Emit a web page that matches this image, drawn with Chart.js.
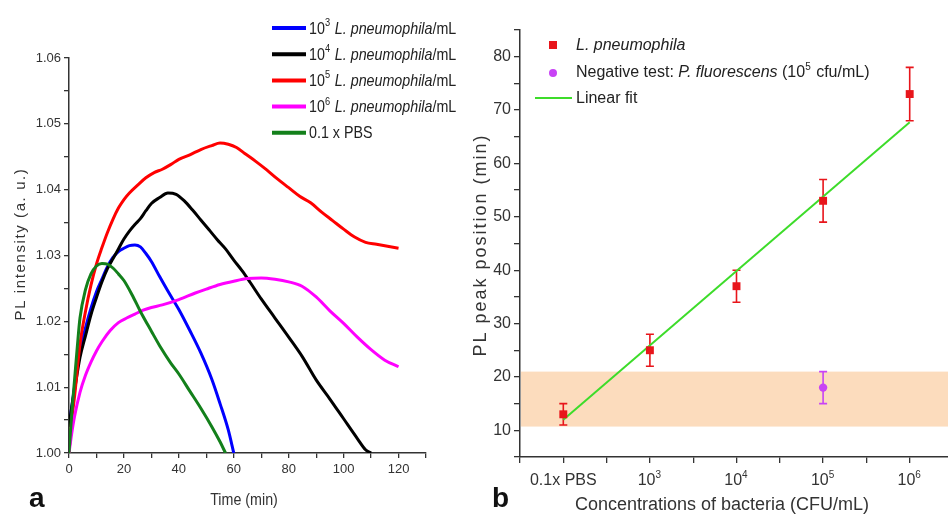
<!DOCTYPE html>
<html>
<head>
<meta charset="utf-8">
<script src="https://cdn.jsdelivr.net/npm/chart.js@4.4.1/dist/chart.umd.min.js"></script>
<style>
  body { margin: 0; background: #fff; overflow: hidden; }
  #wrap { position: relative; width: 948px; height: 518px; background: #fff; overflow: hidden; }
  #chartA { position: absolute; left: 0; top: 0; }
  #chartB { position: absolute; left: 470px; top: 0; }
</style>
</head>
<body>
<div id="wrap">
  <canvas id="chartA" width="470" height="518"></canvas>
  <canvas id="chartB" width="490" height="518"></canvas>
</div>
<script>
// ---- panel a: PL intensity (a.u.) vs time (min) ----
const tBlue = [0, 1, 2, 4, 6, 8, 10, 12, 14, 16, 18, 20, 22, 24, 26, 28, 30, 33, 36, 40, 44, 48, 52, 55, 58, 60];
const vBlue = [1.004, 1.007, 1.010, 1.0155, 1.019, 1.022, 1.0245, 1.0264, 1.0283, 1.0297, 1.0306, 1.0311, 1.0315, 1.0316, 1.0313, 1.0303, 1.0291, 1.0268, 1.0246, 1.0218, 1.0186, 1.0152, 1.0112, 1.0075, 1.0035, 1.000];

const tBlack = [0, 1, 2, 4, 6, 8, 10, 12, 14, 16, 18, 20, 22, 24, 26, 28, 30, 33, 36, 39, 42, 45, 48, 51, 54, 57, 60, 63, 66, 70, 75, 80, 85, 90, 95, 100, 105, 108, 110];
const vBlack = [1.004, 1.007, 1.0095, 1.0145, 1.0178, 1.021, 1.0236, 1.026, 1.028, 1.0295, 1.031, 1.0325, 1.0337, 1.0347, 1.0356, 1.0368, 1.0379, 1.0388, 1.0395, 1.0393, 1.0383, 1.0369, 1.0354, 1.0339, 1.0324, 1.0310, 1.0293, 1.0277, 1.0259, 1.0234, 1.0205, 1.0176, 1.0146, 1.0111, 1.0082, 1.0052, 1.0022, 1.0005, 1.000];

const tRed = [0, 1, 2, 4, 6, 8, 10, 12, 14, 16, 18, 20, 22, 25, 28, 31, 34, 37, 40, 44, 48, 52, 55, 58, 61, 64, 68, 72, 76, 80, 84, 88, 92, 96, 100, 104, 108, 112, 116, 120];
const vRed = [1.000, 1.005, 1.0085, 1.0165, 1.0215, 1.0255, 1.0287, 1.0312, 1.0335, 1.0355, 1.0372, 1.0385, 1.0395, 1.0407, 1.0418, 1.0426, 1.0431, 1.0438, 1.0446, 1.0453, 1.0461, 1.0467, 1.0471, 1.0469, 1.0464, 1.0455, 1.0443, 1.0430, 1.0416, 1.0403, 1.0390, 1.0380, 1.0366, 1.0353, 1.0340, 1.0328, 1.0320, 1.0317, 1.0314, 1.0311];

const tMagenta = [0, 1, 2, 4, 6, 8, 10, 12, 15, 18, 21, 24, 27, 30, 34, 40, 46, 50, 55, 60, 65, 70, 75, 80, 85, 90, 95, 100, 105, 110, 115, 120];
const vMagenta = [1.000, 1.003, 1.0055, 1.0092, 1.0118, 1.0138, 1.0155, 1.0169, 1.0186, 1.0198, 1.0205, 1.0211, 1.0217, 1.0221, 1.0225, 1.0233, 1.0243, 1.0249, 1.0256, 1.0261, 1.0265, 1.0266, 1.0264, 1.0260, 1.0253, 1.0237, 1.0216, 1.0197, 1.0176, 1.0157, 1.0141, 1.0131];

const tGreen = [0, 1, 2, 3, 4, 6, 8, 10, 12, 14, 16, 18, 20, 23, 26, 30, 33, 37, 40, 44, 48, 52, 55, 57];
const vGreen = [1.000, 1.006, 1.011, 1.016, 1.0205, 1.0248, 1.0272, 1.0284, 1.0288, 1.0287, 1.0281, 1.0272, 1.0262, 1.0240, 1.0215, 1.0185, 1.0163, 1.0137, 1.0120, 1.0094, 1.0068, 1.0040, 1.0017, 1.000];

const curveExponents = [3, 4, 5, 6, null]; // null = 0.1 x PBS control

// ---- panel b: PL peak position vs concentration ----
const concBase = ['0.1x PBS', '10', '10', '10', '10'];
const concExp = ['', '3', '4', '5', '6'];
const peakPos = [13, 25, 37, 53, 73];
const peakErr = [2, 3, 3, 4, 5];
const negConc = [3];
const negPos = [18];
const negErr = [3];
const fitX = [0, 4];
const fitY = [12, 67.7];
const bandRange = [10.7, 21];

const SANS = '"Liberation Sans", Arial, sans-serif';
const INK = '#333';
const NARROW = 0.84; // horizontal squeeze for the condensed look of panel a

Chart.defaults.font.family = SANS;
Chart.defaults.color = INK;

function pts(xs, ys) {
  return xs.map((x, i) => ({ x: x, y: ys[i] }));
}

function richWidth(ctx, parts, size) {
  let w = 0;
  parts.forEach(p => {
    const s = p.sup ? Math.round(size * 0.62) : size;
    ctx.font = (p.italic ? 'italic ' : '') + s + 'px ' + SANS;
    w += ctx.measureText(p.text).width + (p.sup ? 1 : 0);
  });
  return w;
}

// text with italic / superscript pieces, sx squeezes it horizontally
function drawRich(ctx, x, y, parts, size, sx, center) {
  ctx.save();
  ctx.translate(x, y);
  ctx.scale(sx || 1, 1);
  ctx.textBaseline = 'middle';
  ctx.textAlign = 'left';
  let cx = center ? -richWidth(ctx, parts, size) / 2 : 0;
  parts.forEach(p => {
    const s = p.sup ? Math.round(size * 0.62) : size;
    ctx.font = (p.italic ? 'italic ' : '') + s + 'px ' + SANS;
    ctx.fillText(p.text, cx, p.sup ? -size * 0.36 : 0);
    cx += ctx.measureText(p.text).width + (p.sup ? 1 : 0);
  });
  ctx.restore();
}

function drawText(ctx, t) {
  ctx.save();
  ctx.translate(t.x, t.y);
  if (t.rot) ctx.rotate(t.rot);
  if (t.sx) ctx.scale(t.sx, 1);
  ctx.font = t.font;
  ctx.fillStyle = t.color || INK;
  if (t.spacing) ctx.letterSpacing = t.spacing;
  ctx.textAlign = t.align || 'center';
  ctx.textBaseline = t.baseline || 'middle';
  ctx.fillText(t.text, 0, 0);
  ctx.restore();
}

const axisStyle = {
  grid: { drawOnChartArea: false, drawTicks: true, tickLength: 5, color: INK, lineWidth: 1.3 },
  border: { display: true, color: INK, width: 1.5 }
};

// ---------------- chart a ----------------
const curveColors = ['#0000ff', '#000000', '#ff0000', '#ff00ff', '#13801b'];
const curveData = [pts(tBlue, vBlue), pts(tBlack, vBlack), pts(tRed, vRed), pts(tMagenta, vMagenta), pts(tGreen, vGreen)];

const legendA = {
  id: 'legendA',
  afterDraw(chart) {
    const ctx = chart.ctx;
    ctx.save();
    curveExponents.forEach((e, i) => {
      const y = 28 + i * 26.2;
      ctx.strokeStyle = curveColors[i];
      ctx.lineWidth = 4;
      ctx.beginPath();
      ctx.moveTo(272, y);
      ctx.lineTo(306, y);
      ctx.stroke();
      ctx.fillStyle = '#222';
      const parts = e === null
        ? [{ text: '0.1 x PBS' }]
        : [{ text: '10' }, { text: String(e), sup: true }, { text: ' ' }, { text: 'L. pneumophila', italic: true }, { text: '/mL' }];
      drawRich(ctx, 309, y + 1, parts, 17, NARROW);
    });
    drawText(ctx, { text: 'PL intensity (a. u.)', x: 21, y: 244, rot: -Math.PI / 2, font: '15px ' + SANS, spacing: '1.6px' });
    drawText(ctx, { text: 'Time (min)', x: 244, y: 500, font: '17px ' + SANS, sx: NARROW });
    drawText(ctx, { text: 'a', x: 29, y: 507, font: 'bold 28px ' + SANS, align: 'left', baseline: 'alphabetic', color: '#111' });
    ctx.restore();
  }
};

new Chart(document.getElementById('chartA'), {
  type: 'line',
  data: {
    datasets: curveData.map((d, i) => ({
      label: curveExponents[i] === null ? '0.1 x PBS' : '10^' + curveExponents[i] + ' L. pneumophila/mL',
      data: d,
      borderColor: curveColors[i],
      borderWidth: 3,
      pointRadius: 0,
      cubicInterpolationMode: 'monotone',
      fill: false,
      order: 5 - i
    }))
  },
  options: {
    responsive: false,
    animation: false,
    layout: { padding: { left: 0, top: 58, right: 44, bottom: 0 } },
    plugins: { legend: { display: false }, tooltip: { enabled: false } },
    scales: {
      x: {
        type: 'linear',
        min: 0, max: 130,
        ...axisStyle,
        ticks: {
          stepSize: 10, padding: 4, maxRotation: 0, autoSkip: false,
          font: { size: 13 },
          callback: v => (v % 20 === 0 ? String(v) : '')
        },
        afterFit: s => { s.height = 65; }
      },
      y: {
        min: 1.0, max: 1.06,
        ...axisStyle,
        ticks: {
          stepSize: 0.005, padding: 3, autoSkip: false,
          font: { size: 13 },
          callback: v => (Math.round(v * 1000) % 10 === 0 ? v.toFixed(2) : '')
        },
        afterFit: s => { s.width = 69; }
      }
    }
  },
  plugins: [legendA]
});

// ---------------- chart b ----------------
const RED = '#e8151b';
const VIOLET = '#c843f5';
const FIT = '#3ddc2a';

const bandAndErrors = {
  id: 'bandAndErrors',
  beforeDatasetsDraw(chart) {
    const { ctx, chartArea, scales } = chart;
    const yTop = scales.y.getPixelForValue(bandRange[1]);
    const yBot = scales.y.getPixelForValue(bandRange[0]);
    ctx.save();
    ctx.fillStyle = '#fcdcbd';
    ctx.fillRect(chartArea.left + 1, yTop, chartArea.right - chartArea.left, yBot - yTop);
    chart.data.datasets.forEach((ds, i) => {
      if (!ds.yErr) return;
      const meta = chart.getDatasetMeta(i);
      ctx.strokeStyle = ds.borderColor;
      ctx.lineWidth = 1.6;
      meta.data.forEach((el, j) => {
        const v = ds.data[j].y;
        const e = ds.yErr[j];
        const y1 = scales.y.getPixelForValue(v + e);
        const y2 = scales.y.getPixelForValue(v - e);
        ctx.beginPath();
        ctx.moveTo(el.x, y1); ctx.lineTo(el.x, y2);
        ctx.moveTo(el.x - 4, y1); ctx.lineTo(el.x + 4, y1);
        ctx.moveTo(el.x - 4, y2); ctx.lineTo(el.x + 4, y2);
        ctx.stroke();
      });
    });
    ctx.restore();
  },
  afterDraw(chart) {
    const ctx = chart.ctx;
    const xs = chart.scales.x;
    ctx.save();
    // category labels with real superscripts
    ctx.fillStyle = INK;
    concBase.forEach((b, i) => {
      const parts = concExp[i] ? [{ text: b }, { text: concExp[i], sup: true }] : [{ text: b }];
      drawRich(ctx, xs.getPixelForValue(i), 481, parts, 16, 1, true);
    });
    // legend
    ctx.fillStyle = RED;
    ctx.fillRect(79, 41, 8, 8);
    ctx.fillStyle = VIOLET;
    ctx.beginPath();
    ctx.arc(83, 73, 4, 0, Math.PI * 2);
    ctx.fill();
    ctx.strokeStyle = FIT;
    ctx.lineWidth = 2;
    ctx.beginPath();
    ctx.moveTo(65, 98); ctx.lineTo(102, 98);
    ctx.stroke();
    ctx.fillStyle = '#222';
    drawRich(ctx, 106, 46, [{ text: 'L. pneumophila', italic: true }], 16);
    drawRich(ctx, 106, 73, [{ text: 'Negative test: ' }, { text: 'P. fluorescens', italic: true }, { text: ' (10' }, { text: '5', sup: true }, { text: ' cfu/mL)' }], 16);
    drawRich(ctx, 106, 99, [{ text: 'Linear fit' }], 16);
    // axis titles
    drawText(ctx, { text: 'PL peak position (min)', x: 11, y: 245, rot: -Math.PI / 2, font: '18px ' + SANS, spacing: '2px' });
    drawText(ctx, { text: 'Concentrations of bacteria (CFU/mL)', x: 252, y: 505, font: '18px ' + SANS });
    drawText(ctx, { text: 'b', x: 22, y: 507, font: 'bold 28px ' + SANS, align: 'left', baseline: 'alphabetic', color: '#111' });
    ctx.restore();
  }
};

new Chart(document.getElementById('chartB'), {
  type: 'scatter',
  data: {
    datasets: [
      {
        type: 'line',
        label: 'Linear fit',
        data: pts(fitX, fitY),
        borderColor: FIT,
        borderWidth: 2,
        pointRadius: 0,
        fill: false,
        order: 3
      },
      {
        label: 'L. pneumophila',
        data: pts(concBase.map((c, i) => i), peakPos),
        yErr: peakErr,
        borderColor: RED,
        backgroundColor: RED,
        pointStyle: 'rect',
        pointRadius: 5.6,
        borderWidth: 0,
        order: 1
      },
      {
        label: 'Negative test: P. fluorescens (10^5 cfu/mL)',
        data: pts(negConc, negPos),
        yErr: negErr,
        borderColor: VIOLET,
        backgroundColor: VIOLET,
        pointStyle: 'circle',
        pointRadius: 4.2,
        borderWidth: 0,
        order: 2
      }
    ]
  },
  options: {
    responsive: false,
    animation: false,
    layout: { padding: { left: 0, top: 30, right: 5, bottom: 0 } },
    plugins: { legend: { display: false }, tooltip: { enabled: false } },
    scales: {
      x: {
        type: 'linear',
        min: -0.5, max: 4.5,
        ...axisStyle,
        grid: { ...axisStyle.grid, tickLength: 6 },
        ticks: {
          stepSize: 0.5, padding: 7, maxRotation: 0, autoSkip: false,
          font: { size: 16 },
          callback: () => ''
        },
        afterFit: s => { s.height = 61; }
      },
      y: {
        min: 5, max: 85,
        ...axisStyle,
        grid: { ...axisStyle.grid, tickLength: 6 },
        ticks: {
          stepSize: 5, padding: 3, autoSkip: false,
          font: { size: 16 },
          callback: v => (v % 10 === 0 ? String(v) : '')
        },
        afterFit: s => { s.width = 50; }
      }
    }
  },
  plugins: [bandAndErrors]
});
</script>
</body>
</html>
